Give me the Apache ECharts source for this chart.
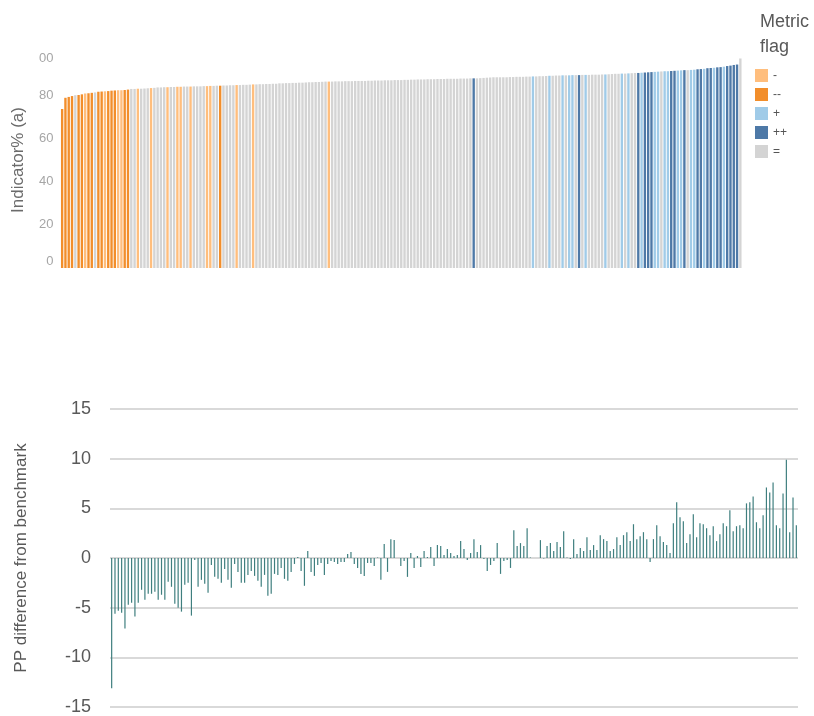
<!DOCTYPE html>
<html>
<head>
<meta charset="utf-8">
<script src="https://cdn.jsdelivr.net/npm/echarts@6/dist/echarts.min.js"></script>
<style>
html,body{margin:0;padding:0;background:#fff;}
#chart{width:814px;height:716px;}
</style>
</head>
<body>
<div id="chart"></div>
<script>
// Top panel: indicator % (sorted ascending)
const indicatorValues = [
73.6,78.8,79.2,79.6,80.0,80.1,80.4,80.8,80.9,81.1,
81.3,81.6,81.7,81.8,81.9,82.1,82.2,82.3,82.3,82.4,
82.6,82.9,82.9,83.0,83.0,83.1,83.2,83.3,83.4,83.6,
83.6,83.7,83.7,83.8,83.8,83.9,83.9,84.0,84.0,84.0,
84.1,84.1,84.1,84.2,84.2,84.3,84.3,84.4,84.4,84.5,
84.5,84.6,84.6,84.7,84.7,84.8,84.8,84.9,85.0,85.0,
85.1,85.1,85.2,85.2,85.3,85.3,85.5,85.5,85.6,85.6,
85.7,85.7,85.8,85.8,85.9,86.0,86.0,86.1,86.1,86.2,
86.3,86.3,86.3,86.4,86.4,86.4,86.5,86.5,86.5,86.6,
86.6,86.6,86.6,86.7,86.7,86.8,86.8,86.8,86.9,86.9,
86.9,87.0,87.0,87.0,87.1,87.1,87.2,87.2,87.3,87.3,
87.3,87.4,87.4,87.4,87.5,87.5,87.5,87.6,87.6,87.6,
87.6,87.7,87.7,87.7,87.8,87.8,87.8,87.9,88.0,88.1,
88.2,88.3,88.3,88.3,88.3,88.3,88.4,88.4,88.5,88.5,
88.5,88.6,88.6,88.7,88.7,88.8,88.8,88.9,89.0,89.0,
89.1,89.1,89.2,89.2,89.2,89.3,89.3,89.3,89.4,89.4,
89.4,89.5,89.5,89.5,89.6,89.6,89.7,89.8,89.9,89.9,
90.0,90.0,90.1,90.2,90.3,90.3,90.4,90.5,90.6,90.7,
90.8,90.9,91.0,91.1,91.1,91.2,91.3,91.4,91.5,91.6,
91.6,91.7,91.8,92.0,92.1,92.2,92.5,92.6,92.7,92.9,
93.0,93.2,93.5,93.7,94.0,94.2,97.0
];
const flags = [
'--','--','--','--','=','--','--','-','--','--',
'=','--','--','-','--','--','--','-','-','--',
'--','=','=','-','=','=','=','-','=','=',
'=','=','-','=','=','-','-','=','=','-',
'=','=','=','=','-','-','=','=','--','=',
'=','=','=','-','=','=','=','=','-','=',
'=','=','=','=','=','=','=','=','=','=',
'=','=','=','=','=','=','=','=','=','=',
'=','-','=','=','=','=','=','=','=','=',
'=','=','=','=','=','=','=','=','=','=',
'=','=','=','=','=','=','=','=','=','=',
'=','=','=','=','=','=','=','=','=','=',
'=','=','=','=','=','++','=','=','=','=',
'=','=','=','=','=','=','=','=','=','=',
'=','=','=','+','=','=','=','=','+','=',
'=','=','+','=','+','+','=','++','=','+',
'=','=','=','=','=','+','=','=','=','=',
'+','=','+','=','=','++','+','++','++','++',
'+','+','=','+','+','++','++','+','+','++',
'=','+','+','++','++','+','++','++','+','++',
'++','+','++','++','++','++','='
];
const flagNames = ['-','--','+','++','='];
const flagColors = ['#FFBE7D','#F28E2B','#A0CBE8','#4E79A7','#D4D4D4'];

// Bottom panel: percentage-point difference from benchmark
const ppDifference = [
-13.1,-5.6,-5.3,-5.5,-7.1,-4.7,-4.5,-5.9,-4.5,-3.2,
-4.2,-3.6,-3.6,-3.4,-4.2,-3.7,-4.2,-2.4,-2.9,-4.6,
-5.0,-5.4,-2.7,-2.5,-5.8,-0.2,-2.9,-2.2,-2.6,-3.5,
-0.7,-1.9,-2.1,-2.5,-1.1,-2.2,-3.0,-0.6,-1.4,-2.5,
-2.5,-1.7,-1.3,-1.8,-2.3,-2.9,-1.7,-3.8,-3.6,-1.6,
-1.7,-1.0,-2.1,-2.3,-1.4,-0.6,0.1,-1.3,-2.8,0.7,
-1.4,-1.8,-0.7,-0.5,-1.7,-0.6,-0.3,-0.4,-0.6,
-0.4,-0.4,0.4,0.6,-0.6,-1.0,-1.6,-1.8,-0.5,-0.5,
-0.8,0.05,-2.2,1.4,-1.4,1.9,1.8,0.0,-0.8,-0.3,
-1.9,0.5,-1.0,0.2,-0.9,0.7,0.1,1.1,-0.8,1.3,
1.2,0.3,0.9,0.5,0.2,0.3,1.7,0.9,-0.2,0.5,
1.9,0.6,1.3,-0.1,-1.3,-0.7,-0.3,1.5,-1.6,-0.3,
-0.2,-1.0,2.8,1.2,1.5,1.2,3.0,0.05,0.0,0.0,
1.8,-0.05,1.2,1.5,0.7,1.6,1.1,2.7,
0.05,-0.1,1.9,0.4,1.0,0.7,2.1,0.8,1.3,0.8,
2.3,1.9,1.7,0.7,0.9,2.1,1.3,2.3,2.6,1.7,
3.4,1.9,2.2,2.6,1.9,-0.4,1.9,3.3,2.2,1.6,
1.3,0.5,3.5,5.6,4.1,3.7,1.5,2.4,4.4,2.1,
3.5,3.4,3.0,2.3,3.2,1.7,2.4,3.5,3.2,4.8,
2.7,3.2,3.3,3.0,5.5,5.6,6.2,3.6,3.0,4.3,
7.1,6.6,7.6,3.3,3.0,6.5,9.9,2.6,6.1,3.3
];

const topTicks = [0,20,40,60,80,100];
const topTickLabels = ['0','20','40','60','80','00'];
const bottomTicks = [-15,-10,-5,0,5,10,15];

const topCategories = indicatorValues.map((_, i) => 'U' + (i + 1));
const bottomCategories = ppDifference.map((_, i) => 'U' + (i + 1));

const FONT = '"Liberation Sans", Arial, sans-serif';

const topSeries = flagNames.map((name, k) => ({
  name: name,
  type: 'bar',
  xAxisIndex: 0,
  yAxisIndex: 0,
  barWidth: '72%',
  barGap: '-100%',
  itemStyle: { color: flagColors[k] },
  emphasis: { disabled: true },
  data: indicatorValues.map((v, i) => flags[i] === name ? v : '-')
}));

const chart = echarts.init(document.getElementById('chart'), null, { renderer: 'canvas' });
chart.setOption({
  animation: false,
  backgroundColor: '#ffffff',
  textStyle: { fontFamily: FONT },
  title: {
    text: 'Metric\nflag',
    left: 755,
    top: 5,
    textStyle: { fontFamily: FONT, fontSize: 18, fontWeight: 'normal', color: '#595959', lineHeight: 25 }
  },
  legend: {
    orient: 'vertical',
    left: 750,
    top: 64,
    itemWidth: 13,
    itemHeight: 13,
    itemGap: 6,
    icon: 'rect',
    data: flagNames,
    textStyle: { fontFamily: FONT, fontSize: 12, color: '#555555' },
    selectedMode: false
  },
  grid: [
    { left: 60.5, right: 72, top: 52, height: 216 },
    { left: 110, right: 16, top: 409, height: 300 }
  ],
  xAxis: [
    {
      type: 'category', gridIndex: 0, data: topCategories,
      axisLine: { show: false }, axisTick: { show: false }, axisLabel: { show: false }
    },
    {
      type: 'category', gridIndex: 1, data: bottomCategories,
      axisLine: { show: false }, axisTick: { show: false }, axisLabel: { show: false }
    }
  ],
  yAxis: [
    {
      type: 'value', gridIndex: 0, min: 0, max: 100, interval: 20,
      name: 'Indicator% (a)', nameLocation: 'middle', nameGap: 34,
      nameTextStyle: { fontFamily: FONT, fontSize: 17, color: '#6b6b6b' },
      axisLine: { show: false }, axisTick: { show: false }, splitLine: { show: false },
      axisLabel: {
        margin: 7, fontSize: 13, color: '#a6a6a6', fontFamily: FONT,
        verticalAlignMinLabel: 'bottom', verticalAlignMaxLabel: 'top',
        formatter: v => topTickLabels[topTicks.indexOf(v)]
      }
    },
    {
      type: 'value', gridIndex: 1, min: -15, max: 15, interval: 5,
      name: 'PP difference from benchmark', nameLocation: 'middle', nameGap: 80,
      nameTextStyle: { fontFamily: FONT, fontSize: 17, color: '#595959' },
      axisLine: { show: false }, axisTick: { show: false },
      splitLine: { show: true, lineStyle: { color: '#d9d9d9', width: 2 } },
      axisLabel: {
        margin: 19, fontSize: 18, color: '#595959', fontFamily: FONT,
        formatter: v => bottomTicks.indexOf(v) >= 0 ? String(v) : ''
      }
    }
  ],
  series: topSeries.concat([{
    name: 'PP difference',
    type: 'bar',
    xAxisIndex: 1,
    yAxisIndex: 1,
    barWidth: 1.2,
    itemStyle: { color: '#3f7f7f' },
    emphasis: { disabled: true },
    data: ppDifference
  }])
});
</script>
</body>
</html>
